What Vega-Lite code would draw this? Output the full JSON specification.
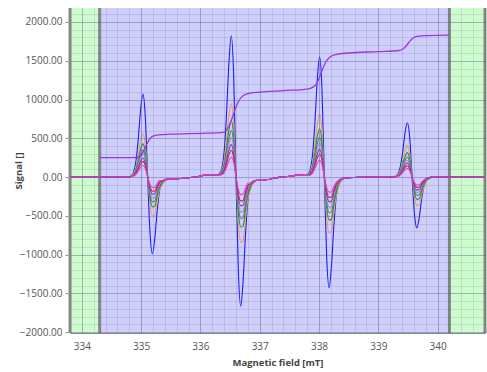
{
  "$schema": "https://vega.github.io/schema/vega-lite/v6.json",
  "width": 415,
  "height": 325,
  "autosize": "none",
  "padding": {"left": 70, "top": 8, "right": 2, "bottom": 39},
  "background": "white",
  "config": {"view": {"stroke": null}, "font": "Open Sans"},
  "datasets": {
    "greens": [{"a": 333.8, "z": 334.3}, {"a": 340.2, "z": 340.8}],
    "mid": [{"a": 334.3, "z": 340.2}],
    "edges": [{"x": 333.8}, {"x": 334.3}, {"x": 340.2}, {"x": 340.8}],
    "spec": [
      {"x":333.8,"b":0,"o":0,"g":0,"t":0,"l":0,"p":0,"r":0,"m":0},
      {"x":334.5,"b":0,"o":0,"g":0,"t":0,"l":0,"p":0,"r":0,"m":0},
      {"x":334.7,"b":0,"o":0,"g":0,"t":0,"l":0,"p":0,"r":0,"m":0},
      {"x":334.79,"b":0,"o":3,"g":2,"t":2,"l":1,"p":1,"r":1,"m":1},
      {"x":334.83,"b":14,"o":14,"g":11,"t":9,"l":8,"p":6,"r":5,"m":4},
      {"x":334.87,"b":59,"o":45,"g":34,"t":28,"l":24,"p":20,"r":16,"m":12},
      {"x":334.91,"b":194,"o":122,"g":94,"t":78,"l":66,"p":54,"r":45,"m":33},
      {"x":334.95,"b":477,"o":278,"g":214,"t":177,"l":150,"p":123,"r":102,"m":75},
      {"x":334.99,"b":859,"o":462,"g":355,"t":293,"l":249,"p":204,"r":169,"m":124},
      {"x":335.03,"b":1070,"o":556,"g":428,"t":353,"l":300,"p":246,"r":203,"m":150},
      {"x":335.07,"b":779,"o":412,"g":317,"t":261,"l":222,"p":182,"r":150,"m":111},
      {"x":335.11,"b":0,"o":11,"g":8,"t":7,"l":6,"p":5,"r":4,"m":3},
      {"x":335.15,"b":-721,"o":-350,"g":-269,"t":-222,"l":-188,"p":-155,"r":-128,"m":-94},
      {"x":335.19,"b":-990,"o":-499,"g":-384,"t":-317,"l":-269,"p":-221,"r":-182,"m":-134},
      {"x":335.23,"b":-795,"o":-489,"g":-376,"t":-311,"l":-263,"p":-216,"r":-179,"m":-132},
      {"x":335.27,"b":-442,"o":-319,"g":-246,"t":-203,"l":-172,"p":-141,"r":-117,"m":-86},
      {"x":335.31,"b":-179,"o":-170,"g":-131,"t":-108,"l":-92,"p":-75,"r":-62,"m":-46},
      {"x":335.35,"b":-79,"o":-102,"g":-85,"t":-74,"l":-67,"p":-59,"r":-53,"m":-46},
      {"x":335.39,"b":-38,"o":-56,"g":-49,"t":-44,"l":-42,"p":-39,"r":-36,"m":-33},
      {"x":335.43,"b":-25,"o":-35,"g":-33,"t":-32,"l":-31,"p":-30,"r":-29,"m":-28},
      {"x":335.47,"b":-25,"o":-25,"g":-25,"t":-25,"l":-25,"p":-25,"r":-25,"m":-25},
      {"x":335.6,"b":-22,"o":-22,"g":-22,"t":-22,"l":-22,"p":-22,"r":-22,"m":-22},
      {"x":335.8,"b":-8,"o":-8,"g":-8,"t":-8,"l":-8,"p":-8,"r":-8,"m":-8},
      {"x":335.95,"b":5,"o":5,"g":5,"t":5,"l":5,"p":5,"r":5,"m":5},
      {"x":336.1,"b":28,"o":28,"g":28,"t":28,"l":28,"p":28,"r":28,"m":28},
      {"x":336.2,"b":30,"o":30,"g":30,"t":30,"l":30,"p":30,"r":30,"m":30},
      {"x":336.28,"b":25,"o":30,"g":29,"t":28,"l":28,"p":27,"r":27,"m":26},
      {"x":336.32,"b":44,"o":44,"g":38,"t":35,"l":33,"p":31,"r":29,"m":26},
      {"x":336.36,"b":110,"o":86,"g":68,"t":58,"l":51,"p":44,"r":38,"m":30},
      {"x":336.4,"b":329,"o":208,"g":160,"t":132,"l":112,"p":92,"r":76,"m":56},
      {"x":336.44,"b":812,"o":473,"g":364,"t":300,"l":255,"p":209,"r":173,"m":127},
      {"x":336.48,"b":1461,"o":786,"g":604,"t":499,"l":423,"p":348,"r":287,"m":212},
      {"x":336.52,"b":1820,"o":946,"g":728,"t":601,"l":510,"p":419,"r":346,"m":255},
      {"x":336.56,"b":1325,"o":700,"g":539,"t":445,"l":377,"p":310,"r":256,"m":189},
      {"x":336.6,"b":0,"o":19,"g":14,"t":12,"l":10,"p":8,"r":7,"m":5},
      {"x":336.64,"b":-1212,"o":-589,"g":-453,"t":-374,"l":-317,"p":-260,"r":-215,"m":-158},
      {"x":336.68,"b":-1665,"o":-840,"g":-646,"t":-533,"l":-452,"p":-371,"r":-307,"m":-226},
      {"x":336.72,"b":-1337,"o":-823,"g":-633,"t":-522,"l":-443,"p":-364,"r":-301,"m":-221},
      {"x":336.76,"b":-743,"o":-537,"g":-413,"t":-341,"l":-289,"p":-237,"r":-196,"m":-144},
      {"x":336.8,"b":-301,"o":-285,"g":-220,"t":-181,"l":-154,"p":-126,"r":-104,"m":-77},
      {"x":336.84,"b":-132,"o":-170,"g":-140,"t":-123,"l":-110,"p":-98,"r":-88,"m":-75},
      {"x":336.88,"b":-62,"o":-92,"g":-80,"t":-73,"l":-68,"p":-63,"r":-59,"m":-54},
      {"x":336.92,"b":-40,"o":-57,"g":-53,"t":-51,"l":-49,"p":-48,"r":-46,"m":-45},
      {"x":336.96,"b":-40,"o":-40,"g":-40,"t":-40,"l":-40,"p":-40,"r":-40,"m":-40},
      {"x":337.05,"b":-40,"o":-40,"g":-40,"t":-40,"l":-40,"p":-40,"r":-40,"m":-40},
      {"x":337.15,"b":-30,"o":-30,"g":-30,"t":-30,"l":-30,"p":-30,"r":-30,"m":-30},
      {"x":337.25,"b":-12,"o":-12,"g":-12,"t":-12,"l":-12,"p":-12,"r":-12,"m":-12},
      {"x":337.35,"b":0,"o":0,"g":0,"t":0,"l":0,"p":0,"r":0,"m":0},
      {"x":337.5,"b":10,"o":10,"g":10,"t":10,"l":10,"p":10,"r":10,"m":10},
      {"x":337.6,"b":22,"o":22,"g":22,"t":22,"l":22,"p":22,"r":22,"m":22},
      {"x":337.7,"b":25,"o":25,"g":25,"t":25,"l":25,"p":25,"r":25,"m":25},
      {"x":337.77,"b":20,"o":24,"g":23,"t":23,"l":22,"p":22,"r":22,"m":21},
      {"x":337.81,"b":35,"o":35,"g":31,"t":28,"l":26,"p":24,"r":22,"m":20},
      {"x":337.85,"b":93,"o":72,"g":58,"t":49,"l":43,"p":37,"r":32,"m":25},
      {"x":337.89,"b":281,"o":177,"g":136,"t":113,"l":95,"p":78,"r":65,"m":48},
      {"x":337.93,"b":691,"o":403,"g":310,"t":256,"l":217,"p":178,"r":147,"m":109},
      {"x":337.97,"b":1245,"o":669,"g":515,"t":425,"l":360,"p":296,"r":245,"m":180},
      {"x":338.01,"b":1550,"o":806,"g":620,"t":512,"l":434,"p":357,"r":295,"m":217},
      {"x":338.05,"b":1128,"o":596,"g":459,"t":379,"l":321,"p":264,"r":218,"m":161},
      {"x":338.09,"b":0,"o":16,"g":12,"t":10,"l":9,"p":7,"r":6,"m":4},
      {"x":338.13,"b":-1041,"o":-505,"g":-389,"t":-321,"l":-272,"p":-224,"r":-185,"m":-136},
      {"x":338.17,"b":-1430,"o":-721,"g":-555,"t":-458,"l":-388,"p":-319,"r":-264,"m":-194},
      {"x":338.21,"b":-1148,"o":-707,"g":-544,"t":-448,"l":-381,"p":-313,"r":-258,"m":-190},
      {"x":338.25,"b":-638,"o":-461,"g":-355,"t":-293,"l":-248,"p":-204,"r":-169,"m":-124},
      {"x":338.29,"b":-259,"o":-245,"g":-189,"t":-156,"l":-132,"p":-109,"r":-90,"m":-66},
      {"x":338.33,"b":-89,"o":-122,"g":-96,"t":-81,"l":-70,"p":-59,"r":-51,"m":-40},
      {"x":338.37,"b":-29,"o":-55,"g":-44,"t":-38,"l":-34,"p":-30,"r":-26,"m":-22},
      {"x":338.41,"b":-10,"o":-25,"g":-22,"t":-20,"l":-18,"p":-17,"r":-16,"m":-14},
      {"x":338.45,"b":-10,"o":-10,"g":-10,"t":-10,"l":-10,"p":-10,"r":-10,"m":-10},
      {"x":338.6,"b":-5,"o":-5,"g":-5,"t":-5,"l":-5,"p":-5,"r":-5,"m":-5},
      {"x":338.8,"b":0,"o":0,"g":0,"t":0,"l":0,"p":0,"r":0,"m":0},
      {"x":339.0,"b":0,"o":0,"g":0,"t":0,"l":0,"p":0,"r":0,"m":0},
      {"x":339.15,"b":3,"o":3,"g":3,"t":3,"l":3,"p":3,"r":3,"m":3},
      {"x":339.25,"b":0,"o":2,"g":2,"t":1,"l":1,"p":1,"r":1,"m":1},
      {"x":339.29,"b":9,"o":10,"g":8,"t":7,"l":6,"p":5,"r":4,"m":3},
      {"x":339.33,"b":39,"o":32,"g":25,"t":21,"l":17,"p":15,"r":12,"m":9},
      {"x":339.37,"b":127,"o":89,"g":69,"t":57,"l":48,"p":40,"r":32,"m":25},
      {"x":339.41,"b":312,"o":203,"g":158,"t":130,"l":109,"p":91,"r":74,"m":56},
      {"x":339.45,"b":562,"o":337,"g":261,"t":215,"l":180,"p":151,"r":122,"m":93},
      {"x":339.49,"b":700,"o":406,"g":315,"t":259,"l":217,"p":182,"r":147,"m":112},
      {"x":339.53,"b":510,"o":300,"g":233,"t":192,"l":161,"p":135,"r":109,"m":83},
      {"x":339.57,"b":0,"o":8,"g":6,"t":5,"l":4,"p":4,"r":3,"m":2},
      {"x":339.61,"b":-477,"o":-258,"g":-200,"t":-165,"l":-138,"p":-116,"r":-93,"m":-71},
      {"x":339.65,"b":-655,"o":-368,"g":-286,"t":-235,"l":-197,"p":-165,"r":-133,"m":-102},
      {"x":339.69,"b":-526,"o":-361,"g":-280,"t":-230,"l":-193,"p":-162,"r":-131,"m":-100},
      {"x":339.73,"b":-292,"o":-235,"g":-183,"t":-150,"l":-126,"p":-106,"r":-85,"m":-65},
      {"x":339.77,"b":-119,"o":-125,"g":-97,"t":-80,"l":-67,"p":-56,"r":-45,"m":-35},
      {"x":339.81,"b":-36,"o":-57,"g":-44,"t":-36,"l":-30,"p":-25,"r":-21,"m":-16},
      {"x":339.85,"b":-9,"o":-23,"g":-18,"t":-14,"l":-12,"p":-10,"r":-8,"m":-6},
      {"x":339.89,"b":0,"o":-8,"g":-6,"t":-5,"l":-4,"p":-3,"r":-3,"m":-2},
      {"x":339.93,"b":0,"o":0,"g":0,"t":0,"l":0,"p":0,"r":0,"m":0},
      {"x":340.1,"b":0,"o":0,"g":0,"t":0,"l":0,"p":0,"r":0,"m":0},
      {"x":340.8,"b":0,"o":0,"g":0,"t":0,"l":0,"p":0,"r":0,"m":0}
    ],
    "integ": [
      {"x":334.3,"y":250},{"x":334.85,"y":251},{"x":334.95,"y":256},{"x":335.0,"y":280},
      {"x":335.05,"y":350},{"x":335.1,"y":430},{"x":335.15,"y":495},{"x":335.2,"y":528},
      {"x":335.3,"y":545},{"x":335.5,"y":553},{"x":335.8,"y":560},{"x":336.1,"y":566},
      {"x":336.35,"y":572},{"x":336.42,"y":590},{"x":336.47,"y":640},{"x":336.52,"y":730},
      {"x":336.57,"y":840},{"x":336.62,"y":940},{"x":336.67,"y":1010},{"x":336.72,"y":1050},
      {"x":336.8,"y":1075},{"x":337.0,"y":1095},{"x":337.4,"y":1115},{"x":337.8,"y":1135},
      {"x":337.9,"y":1160},{"x":337.97,"y":1220},{"x":338.02,"y":1310},{"x":338.07,"y":1410},
      {"x":338.12,"y":1490},{"x":338.18,"y":1545},{"x":338.28,"y":1580},{"x":338.5,"y":1600},
      {"x":339.0,"y":1618},{"x":339.35,"y":1632},{"x":339.42,"y":1655},{"x":339.48,"y":1700},
      {"x":339.54,"y":1760},{"x":339.6,"y":1800},{"x":339.68,"y":1818},{"x":339.85,"y":1825},
      {"x":340.2,"y":1830}
    ]
  },
  "resolve": {"axis": {"x": "independent", "y": "independent"}},
  "layer": [
    {
      "data": {"name": "greens"},
      "mark": {"type": "rect", "fill": "#cdfccd"},
      "encoding": {
        "x": {"field": "a", "type": "quantitative",
          "scale": {"domain": [333.8, 340.8], "nice": false, "zero": false},
          "axis": {"orient": "bottom", "title": null, "labels": false, "ticks": false, "domain": false,
            "grid": true, "gridColor": "#5a5a96", "gridOpacity": 0.16, "zindex": 1,
            "values": [333.8,334,334.2,334.4,334.6,334.8,335,335.2,335.4,335.6,335.8,336,336.2,336.4,336.6,336.8,337,337.2,337.4,337.6,337.8,338,338.2,338.4,338.6,338.8,339,339.2,339.4,339.6,339.8,340,340.2,340.4,340.6,340.8]}},
        "x2": {"field": "z"}
      }
    },
    {
      "data": {"name": "mid"},
      "mark": {"type": "rect", "fill": "#cfcffb"},
      "encoding": {
        "x": {"field": "a", "type": "quantitative", "scale": {"domain": [333.8, 340.8], "nice": false, "zero": false}, "axis": null},
        "x2": {"field": "z"}
      }
    },
    {
      "data": {"name": "edges"},
      "mark": {"type": "rule", "color": "#767676", "strokeWidth": 3, "opacity": 0.85},
      "encoding": {
        "x": {"field": "x", "type": "quantitative", "scale": {"domain": [333.8, 340.8], "nice": false, "zero": false}, "axis": null}
      }
    },
    {
      "data": {"name": "spec"},
      "transform": [{"fold": ["b", "o", "g", "t", "l", "p", "r", "m"], "as": ["s", "v"]}],
      "mark": {"type": "line", "strokeWidth": 1.1, "interpolate": "monotone"},
      "encoding": {
        "x": {"field": "x", "type": "quantitative",
          "scale": {"domain": [333.8, 340.8], "nice": false, "zero": false},
          "axis": {"orient": "bottom", "values": [334,335,336,337,338,339,340], "format": "d",
            "grid": true, "gridColor": "#5a5a96", "gridOpacity": 0.33, "zindex": 1,
            "domain": true, "domainColor": "#8a8a8a", "ticks": false, "labelPadding": 8,
            "labelFontSize": 10, "labelColor": "#555555",
            "title": "Magnetic field [mT]", "titleFontSize": 9.5, "titleFontWeight": "bold",
            "titleColor": "#444444", "titlePadding": 6}},
        "y": {"field": "v", "type": "quantitative",
          "scale": {"domain": [-2010, 2180], "nice": false, "zero": false},
          "axis": {"orient": "left", "values": [-2000,-1500,-1000,-500,0,500,1000,1500,2000], "format": ".2f",
            "grid": true, "gridColor": "#5a5a96", "gridOpacity": 0.33, "zindex": 1,
            "domain": false, "ticks": true, "tickSize": 5, "tickColor": "#999999", "labelPadding": 3,
            "labelFontSize": 10, "labelColor": "#555555",
            "title": "Signal []", "titleFontSize": 9.5, "titleFontWeight": "bold",
            "titleColor": "#444444", "titleX": -47}},
        "color": {"field": "s", "type": "nominal",
          "scale": {"domain": ["b", "o", "g", "t", "l", "p", "r", "m"],
            "range": ["#1a1aff", "#e9a34f", "#2e8b3e", "#4a8a6a", "#a68ad0", "#7a3fb0", "#cc1f4f", "#e040e0"]},
          "legend": null}
      }
    },
    {
      "data": {"name": "integ"},
      "mark": {"type": "line", "strokeWidth": 1.3, "color": "#9b35e8", "interpolate": "monotone"},
      "encoding": {
        "x": {"field": "x", "type": "quantitative", "scale": {"domain": [333.8, 340.8], "nice": false, "zero": false}, "axis": null},
        "y": {"field": "y", "type": "quantitative",
          "scale": {"domain": [-2010, 2180], "nice": false, "zero": false},
          "axis": {"orient": "left", "title": null, "labels": false, "ticks": false, "domain": false,
            "grid": true, "gridColor": "#5a5a96", "gridOpacity": 0.16, "zindex": 1,
            "values": [-2000,-1900,-1800,-1700,-1600,-1500,-1400,-1300,-1200,-1100,-1000,-900,-800,-700,-600,-500,-400,-300,-200,-100,0,100,200,300,400,500,600,700,800,900,1000,1100,1200,1300,1400,1500,1600,1700,1800,1900,2000,2100]}}
      }
    }
  ]
}
